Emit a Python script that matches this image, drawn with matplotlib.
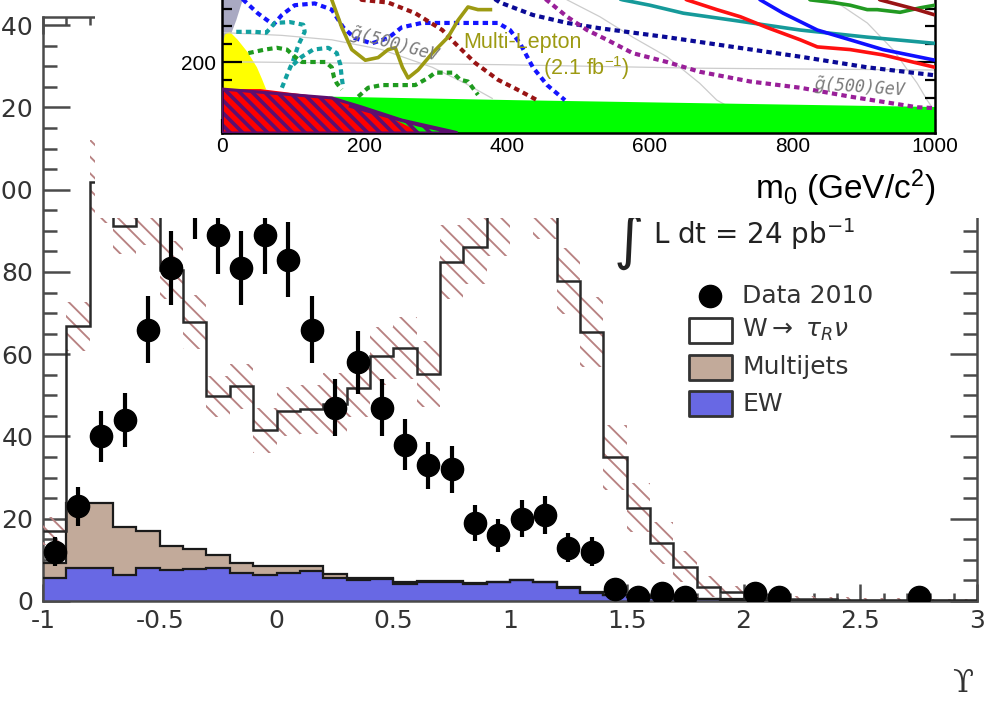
import numpy as np
import matplotlib
matplotlib.use("Agg")
import matplotlib.pyplot as plt
from matplotlib.patches import Rectangle, Polygon
from matplotlib.collections import LineCollection
from matplotlib.ticker import MultipleLocator, FuncFormatter

plt.rcParams['axes.unicode_minus'] = False
plt.rcParams['hatch.linewidth'] = 1.35
plt.rcParams['mathtext.fontset'] = 'custom'
plt.rcParams['mathtext.rm'] = 'Liberation Sans'
plt.rcParams['mathtext.it'] = 'Liberation Sans:italic'
plt.rcParams['mathtext.bf'] = 'Liberation Sans:bold'

# ---------------- main plot data (Upsilon distribution) ----------------
bin_edges = np.round(np.arange(-1.0, 3.0001, 0.1), 2)
ew = [5.6, 8.0, 8.0, 6.3, 8.0, 7.5, 7.7, 8.0, 6.7, 6.3, 6.9, 7.2, 5.6, 5.2, 5.4, 4.1, 4.7, 4.7, 4.1, 4.5,
      5.1, 4.5, 3.2, 2.0, 1.4, 1.0, 0.8, 0.6, 0.4, 0.3, 0.2, 0.1, 0.1, 0.1, 0.1, 0.1, 0.1, 0.1, 0.1, 0.1]
multijets = [3.7, 15.9, 15.9, 11.7, 8.9, 5.9, 4.9, 3.2, 2.6, 2.1, 1.5, 1.4, 1.0, 0.4, 0.2, 0.4, 0.2, 0.2, 0.2, 0.1,
             0.1, 0.1, 0.1, 0.1, 0.1, 0.1, 0.1, 0.1, 0.1, 0.1, 0.0, 0.0, 0.0, 0.0, 0.0, 0.0, 0.0, 0.0, 0.0, 0.0]
w_tau_r = [7.7, 42.9, 78.1, 73.3, 77.1, 67.1, 55.2, 38.6, 42.9, 33.1, 37.7, 38.0, 41.4, 46.2, 54.0, 57.1, 50.2, 77.5, 81.7, 89.4,
           104.8, 91.4, 74.6, 63.3, 33.4, 21.6, 13.2, 7.6, 3.0, 1.8, 0.6, 0.4, 0.3, 0.3, 0.2, 0.2, 0.2, 0.1, 0.1, 0.1]
band_err = [3.5, 6, 10, 7, 7.5, 7, 6.5, 5, 5.5, 5.5, 6, 6, 7.5, 7, 7, 7.5, 8, 9, 9, 10,
            11, 8, 8, 8.5, 8, 6, 5, 3.8, 2.5, 1.5, 1.0, 0.8, 0.7, 0.6, 0.6, 0.5, 0.5, 0.4, 0.4, 0.4]
data_x = [-0.95, -0.85, -0.75, -0.65, -0.55, -0.45, -0.35, -0.25, -0.15, -0.05, 0.05, 0.15, 0.25, 0.35, 0.45,
          0.55, 0.65, 0.75, 0.85, 0.95, 1.05, 1.15, 1.25, 1.35, 1.45, 1.55, 1.65, 1.75, 2.05, 2.15, 2.75]
data_y = [12, 23, 40, 44, 66, 81, 98, 89, 81, 89, 83, 66, 47, 58, 47,
          38, 33, 32, 19, 16, 20, 21, 13, 12, 3, 1, 2, 1, 2, 1, 1]
data_err = [3.5, 4.8, 6.3, 6.6, 8.1, 9.0, 9.9, 9.4, 9.0, 9.4, 9.1, 8.1, 6.9, 7.6, 6.9,
            6.2, 5.7, 5.7, 4.4, 4.0, 4.5, 4.6, 3.6, 3.5, 1.7, 1.0, 1.4, 1.0, 1.4, 1.0, 1.0]
legend_labels = ["Data 2010", r"W$\rightarrow$ $\tau_{R}\nu$", "Multijets", "EW"]
x_ticks = [-1, -0.5, 0, 0.5, 1, 1.5, 2, 2.5, 3]
y_ticks = [0, 20, 40, 60, 80, 100, 120, 140]

# ---------------- inset data (m0 - m1/2 plane) ----------------
gray_reg_m0 = [0, 35, 29, 20, 11, 5, 0]
gray_reg_m12 = [300, 300, 270, 247, 228, 219, 214]
yellow_m0 = [0, 4, 11, 22, 36, 49, 56, 62, 0]
yellow_m12 = [216, 231, 234, 225, 211, 194, 181, 169, 169]
green_m0 = [150, 411, 1000, 1000, 150]
green_m12 = [161, 157, 149.3, 120, 120]
red_m0 = [0, 54, 154, 196, 240, 265, 280, 0]
red_m12 = [169.5, 169.5, 159.5, 149, 136, 126, 120, 120]
purple_m0 = [0, 154, 196, 252, 327, 330, 0]
purple_m12 = [169.5, 159.5, 149.3, 134.6, 121, 120, 120]
purple2_m0 = [180, 230, 275, 320]
purple2_m12 = [150, 139, 129, 121]

blue_dot_m0 = [22, 30, 50, 72, 84, 102, 130, 154, 170, 186, 210, 233, 252, 280, 387, 404, 418, 436, 456, 481]
blue_dot_m12 = [280, 270, 255, 242, 253, 264, 266, 259, 239, 227, 221, 227, 239, 244, 244, 236, 221, 194, 174, 157]
teal_dot1_m0 = [20, 46, 62, 74, 95, 114, 116, 107, 100, 91, 84]
teal_dot1_m12 = [234, 234, 233, 244, 245, 242, 234, 219, 202, 185, 171]
teal_dot2_m0 = [100, 112, 128, 149, 161, 166, 168, 170]
teal_dot2_m12 = [197, 206, 214, 216, 210, 197, 182, 171]
green_dot1_m0 = [37, 60, 77, 91, 102, 112, 126, 145, 154, 157, 161, 168]
green_dot1_m12 = [210, 214, 216, 214, 206, 200, 200, 200, 194, 183, 176, 169]
green_dot2_m0 = [191, 205, 224, 253, 271, 289, 299, 324, 334, 345, 359]
green_dot2_m12 = [161, 171, 174, 174, 174, 182, 188, 188, 180, 178, 163]
darkred_dot_m0 = [180, 196, 233, 271, 309, 327, 355, 387, 414, 442]
darkred_dot_m12 = [280, 270, 267, 255, 236, 221, 199, 180, 169, 157]
navy_dot_m0 = [375, 390, 436, 484, 530, 624, 717, 811, 905, 1000]
navy_dot_m12 = [275, 267, 253, 244, 238, 228, 217, 206, 194, 185]
purple_dot_m0 = [440, 484, 512, 540, 576, 624, 670, 741, 811, 881, 975, 1000]
purple_dot_m12 = [280, 251, 236, 225, 210, 200, 189, 178, 171, 161, 149, 148]

olive_m0 = [148, 154, 168, 182, 201, 219, 233, 243, 253, 261, 275, 295, 317, 331, 345, 359, 379]
olive_m12 = [285, 270, 239, 214, 202, 205, 214, 216, 194, 182, 191, 210, 228, 247, 262, 259, 259]
teal_m0 = [540, 562, 600, 647, 717, 811, 905, 1000]
teal_m12 = [275, 270, 264, 255, 247, 236, 228, 221]
red_line_m0 = [630, 652, 694, 727, 764, 811, 835, 881, 927, 1000]
red_line_m12 = [280, 270, 259, 251, 239, 225, 217, 214, 208, 194]
blue_line_m0 = [740, 755, 787, 835, 881, 927, 1000]
blue_line_m12 = [280, 270, 255, 236, 225, 214, 202]
green_line_m0 = [810, 825, 857, 881, 905, 919, 951, 979, 1000]
green_line_m12 = [280, 270, 267, 264, 259, 259, 256, 261, 264]
darkred_line_m0 = [905, 923, 975, 1000]
darkred_line_m12 = [280, 270, 259, 253]

iso1_m0 = [0, 4, 84, 154, 224, 295, 341, 379]
iso1_m12 = [233, 233, 230, 225, 214, 194, 176, 159]
iso2_m0 = [0, 37, 390, 670, 1000]
iso2_m12 = [200, 200, 197, 193, 191]
iso3_m0 = [460, 484, 530, 576, 624, 670, 694, 710]
iso3_m12 = [285, 270, 251, 228, 206, 176, 157, 150]
iso4_m0 = [840, 857, 905, 941, 975, 989, 995]
iso4_m12 = [285, 270, 244, 214, 176, 157, 150]

# ---------------- figure ----------------
W, H = 997, 708
fig = plt.figure(figsize=(W / 100, H / 100), dpi=100)


def fx(x):
    return x / W


def fy(y):
    return 1 - y / H


axis_col = '#4a4a4a'
text_col = '#333333'
ew_col = '#6868e4'
mj_col = '#c2aa9a'
hatch_col = '#b88282'

ax = fig.add_axes([fx(43), fy(601), fx(977) - fx(43), fy(17) - fy(601)])
ax.set_zorder(0)
ew_a = np.array(ew)
mj_a = np.array(multijets)
sig_a = np.array(w_tau_r)
bkg = ew_a + mj_a
total = bkg + sig_a
band = np.array(band_err)
centers = bin_edges[:-1] + 0.05

ax.stairs(ew_a, bin_edges, baseline=0, fill=True, color=ew_col, zorder=2)
ax.stairs(bkg, bin_edges, baseline=ew_a, fill=True, color=mj_col, zorder=2)
ax.bar(centers, 2 * band, bottom=total - band, width=0.1, color='none', edgecolor=hatch_col,
       linewidth=0, hatch='\\\\', zorder=3)
ax.stairs(ew_a, bin_edges, baseline=None, color='#1a1a1a', lw=1.6, zorder=4)
ax.stairs(bkg, bin_edges, baseline=None, color='#1a1a1a', lw=1.6, zorder=4)
ax.stairs(total, bin_edges, baseline=None, color='#2a2a2a', lw=1.8, zorder=4)
ax.errorbar(data_x, data_y, yerr=data_err, fmt='o', color='black', ms=16, elinewidth=3.0,
            capsize=0, zorder=6)

ax.set_xlim(-1, 3)
ax.set_ylim(0, 142)
ax.set_xticks(x_ticks)
ax.set_yticks(y_ticks)
ax.xaxis.set_minor_locator(MultipleLocator(0.1))
ax.yaxis.set_minor_locator(MultipleLocator(5))
ax.xaxis.set_major_formatter(FuncFormatter(lambda v, p: f"{v:g}"))
ax.tick_params(which='both', direction='in', top=True, right=True, color=axis_col, width=1.8,
               labelsize=18, labelcolor=text_col)
ax.tick_params(axis='x', which='major', length=12.2, pad=6)
ax.tick_params(axis='x', which='minor', length=6)
ax.tick_params(axis='y', which='major', length=19.4, pad=7)
ax.tick_params(axis='y', which='minor', length=10)
for s in ax.spines.values():
    s.set_color(axis_col)
    s.set_linewidth(1.8)

# luminosity text
ax.text(fx(629), fy(241), "\u222b", transform=fig.transFigure, fontsize=42, ha='center', va='center',
        color='#222222', family='DejaVu Sans')
ax.text(fx(653), fy(244), r"L dt = 24 pb$^{-1}$", transform=fig.transFigure, fontsize=20,
        ha='left', va='baseline', color='#222222', family='DejaVu Sans', math_fontfamily='dejavusans')

# legend (drawn by hand in figure coordinates)
rows_y = [296, 330, 367, 404]
ax.plot([fx(710)], [fy(rows_y[0])], 'o', ms=16, color='black', transform=fig.transFigure, clip_on=False)
for yy, fc in zip(rows_y[1:], ['white', mj_col, ew_col]):
    ax.add_patch(Rectangle((fx(689), fy(yy + 12.5)), fx(732) - fx(689), fy(yy - 12.5) - fy(yy + 12.5),
                           transform=fig.transFigure, facecolor=fc, edgecolor='#333333', lw=2.0,
                           joinstyle='round', clip_on=False))
for yy, lab in zip(rows_y, legend_labels):
    ax.text(fx(742), fy(yy), lab, transform=fig.transFigure, fontsize=18, ha='left', va='center',
            color=text_col, family='DejaVu Sans', math_fontfamily='dejavusans')

fig.text(fx(963), fy(684), "\u03d2", fontsize=22, ha='center', va='center', color=text_col,
         family=['DejaVu Serif', 'DejaVu Sans'])

# white panel of the overlaid exclusion plot
fig.add_artist(Rectangle((fx(95), fy(218)), fx(997) - fx(95), fy(0) - fy(218), transform=fig.transFigure,
                         facecolor='white', edgecolor='none', zorder=5))

# ---------------- inset axes ----------------
y_lo, y_hi = 120, 300
ins = fig.add_axes([fx(222), fy(133), fx(935) - fx(222), (y_hi - y_lo) * (17.75 / 20) / H])
ins.set_zorder(6)
ins.patch.set_alpha(0)
ins.set_xlim(0, 1000)
ins.set_ylim(y_lo, y_hi)

ins.fill(gray_reg_m0, gray_reg_m12, color='#a9a9c2', lw=0, zorder=1)
ins.fill(yellow_m0, yellow_m12, color='#ffff00', lw=0, zorder=1.2)
for xs, ys in [(iso1_m0, iso1_m12), (iso2_m0, iso2_m12), (iso3_m0, iso3_m12), (iso4_m0, iso4_m12)]:
    ins.plot(xs, ys, color='#cccccc', lw=0.9, zorder=1.5)
ins.fill(green_m0, green_m12, color='#00ff00', lw=0, zorder=2)
ins.fill(red_m0, red_m12, color='#ff0000', lw=0, zorder=2.2)
ppoly = Polygon(np.column_stack([purple_m0, purple_m12]), closed=True, facecolor='none',
                edgecolor='#5c0f70', lw=2.2, zorder=2.6)
ins.add_patch(ppoly)
segs = [[(fx(x0), fy(70)), (fx(x0 + 75), fy(145))] for x0 in np.arange(130, 480, 12.5)]
lc = LineCollection(segs, colors='#5c0f70', linewidths=2.6, transform=fig.transFigure, zorder=2.5)
ins.add_collection(lc, autolim=False)
lc.set_clip_path(ppoly)
ins.plot(purple2_m0, purple2_m12, color='#5c0f70', lw=2.2, zorder=2.6)

dot = (0, (1.3, 1.0))
dotted = [(blue_dot_m0, blue_dot_m12, '#1414ff'), (teal_dot1_m0, teal_dot1_m12, '#12a0a0'),
          (teal_dot2_m0, teal_dot2_m12, '#12a0a0'), (green_dot1_m0, green_dot1_m12, '#1f9a1f'),
          (green_dot2_m0, green_dot2_m12, '#1f9a1f'), (darkred_dot_m0, darkred_dot_m12, '#991414'),
          (navy_dot_m0, navy_dot_m12, '#0a0a96'), (purple_dot_m0, purple_dot_m12, '#991f99')]
for xs, ys, c in dotted:
    ins.plot(xs, ys, color=c, lw=3.0, ls=dot, zorder=3)
solid = [(olive_m0, olive_m12, '#9d9a12'), (teal_m0, teal_m12, '#169a9a'), (red_line_m0, red_line_m12, '#ff1010'),
         (blue_line_m0, blue_line_m12, '#1010ff'), (green_line_m0, green_line_m12, '#229a22'),
         (darkred_line_m0, darkred_line_m12, '#991414')]
for xs, ys, c in solid:
    ins.plot(xs, ys, color=c, lw=2.6, zorder=3.2, solid_capstyle='butt')

ins.text(338, 215.5, "Multi-Lepton", fontsize=15.5, color='#9d9a12', family='Liberation Sans',
         ha='left', va='baseline', zorder=4)
ins.text(450, 193, r"(2.1 fb$^{-1}$)", fontsize=15.5, color='#9d9a12', family='Liberation Sans',
         ha='left', va='center', zorder=4, math_fontfamily='custom')
ins.text(242, 219, r"$\tilde{g}$(500)GeV", fontsize=12, color='#7a7a7a', family='DejaVu Sans Mono',
         style='italic', rotation=-15, ha='center', va='center', zorder=4, math_fontfamily='dejavusans')
ins.text(895, 170, r"$\tilde{g}$(500)GeV", fontsize=12, color='#7a7a7a', family='DejaVu Sans Mono',
         style='italic', rotation=-4, ha='center', va='center', zorder=4, math_fontfamily='dejavusans')

ins.xaxis.set_major_locator(MultipleLocator(200))
ins.xaxis.set_minor_locator(MultipleLocator(50))
ins.yaxis.set_major_locator(MultipleLocator(100))
ins.yaxis.set_minor_locator(MultipleLocator(20))
ins.tick_params(which='both', direction='in', right=True, top=False, color='black', width=1.6,
                labelsize=15, labelcolor='black')
ins.tick_params(axis='x', which='major', length=10, pad=3)
ins.tick_params(axis='x', which='minor', length=5.8)
ins.tick_params(axis='y', which='major', length=14.4, pad=4)
ins.tick_params(axis='y', which='minor', length=7.2)
for lab in ins.get_xticklabels() + ins.get_yticklabels():
    lab.set_family('Liberation Sans')
for s in ins.spines.values():
    s.set_color('black')
    s.set_linewidth(1.8)
ins.spines['top'].set_visible(False)

fig.text(fx(935), fy(188), r"m$_0$ (GeV/c$^2$)", fontsize=24, family='Liberation Sans', ha='right',
         va='center', color='black', zorder=7, math_fontfamily='custom')

fig.savefig("out.png", dpi=100)
